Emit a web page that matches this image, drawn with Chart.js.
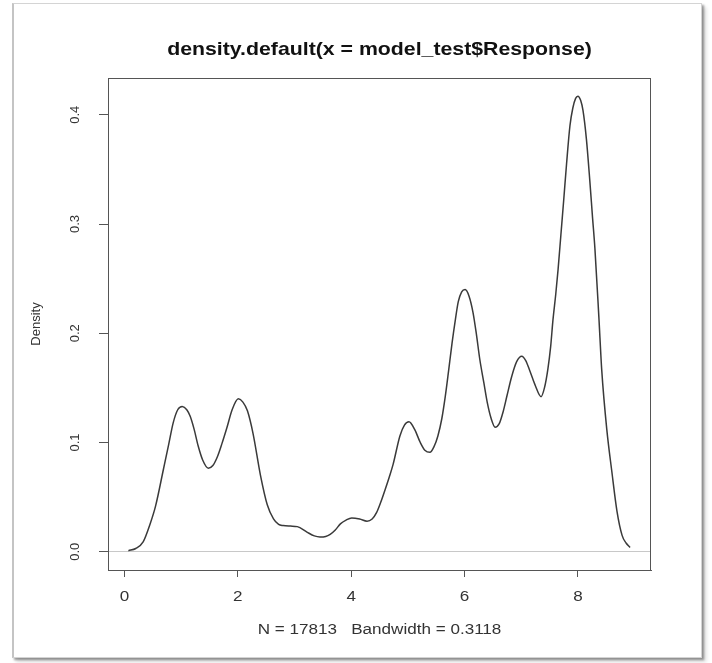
<!DOCTYPE html>
<html lang="en">
<head>
  <meta charset="UTF-8">
  <title>density.default(x = model_test$Response)</title>
  <script src="https://cdn.jsdelivr.net/npm/chart.js"></script>
  <style>
    body {
      margin: 0;
      background: #fff;
      font-family: "Liberation Sans", Arial, sans-serif;
    }

    #frame {
      position: absolute;
      left: 12px;
      top: 3px;
      width: 687px;
      height: 653px;
      border: 1px solid #d4d4d4;
      border-left: 2px solid #c4c4c4;
      box-shadow: 2px 2px 2px rgba(0, 0, 0, 0.35), 4px 4px 4px rgba(0, 0, 0, 0.15);
    }

    #chart-container {
      position: absolute;
      left: 0;
      top: 0;
      width: 712px;
      height: 663px;
    }
  </style>
</head>
<body>
  <div id="frame"></div>
  <div id="chart-container">
    <canvas id="densityChart" width="712" height="663"></canvas>
  </div>

  <script>
    const mainTitle = "density.default(x = model_test$Response)";
    const subTitle = "N = 17813   Bandwidth = 0.3118";
    const yTitle = "Density";

    const xTicks = [0, 2, 4, 6, 8];
    const yTicks = [0.0, 0.1, 0.2, 0.3, 0.4];

    // curve
    const densX = [
      0.07, 0.2, 0.33, 0.45, 0.55, 0.69, 0.78, 0.86, 0.94, 1.02,
      1.10, 1.16, 1.23, 1.30, 1.38, 1.48, 1.56, 1.64, 1.72, 1.81,
      1.90, 2.01, 2.09, 2.17, 2.27, 2.40, 2.52, 2.63, 2.72, 2.80,
      2.93, 3.05, 3.22, 3.35, 3.45, 3.55, 3.63, 3.72, 3.81, 3.91,
      4.01, 4.15, 4.28, 4.37, 4.45, 4.52, 4.60, 4.67, 4.74, 4.86,
      4.94, 5.02, 5.12, 5.22, 5.30, 5.39, 5.46, 5.53, 5.60, 5.66,
      5.72, 5.78, 5.84, 5.89, 5.95, 6.01, 6.08, 6.15, 6.21, 6.27,
      6.34, 6.40, 6.47, 6.54, 6.61, 6.68, 6.75, 6.83, 6.92, 7.01,
      7.08, 7.15, 7.25, 7.35, 7.41, 7.47, 7.52, 7.56, 7.61, 7.65,
      7.70, 7.75, 7.80, 7.86, 7.91, 7.96, 8.00, 8.05, 8.09, 8.15,
      8.21, 8.26, 8.30, 8.37, 8.42, 8.51, 8.60, 8.69, 8.78, 8.85,
      8.92
    ];
    const densY = [
      0.001, 0.003, 0.009, 0.025, 0.042, 0.076, 0.098, 0.118, 0.130, 0.133,
      0.130, 0.124, 0.112, 0.097, 0.084, 0.0765, 0.079, 0.087, 0.099, 0.114,
      0.130, 0.140, 0.137, 0.129, 0.108, 0.070, 0.043, 0.030, 0.025, 0.024,
      0.0235, 0.023, 0.018, 0.0145, 0.0135, 0.014, 0.016, 0.020, 0.0255, 0.029,
      0.031, 0.030, 0.028, 0.030, 0.036, 0.045, 0.057, 0.068, 0.080, 0.106,
      0.116, 0.119, 0.112, 0.100, 0.093, 0.091, 0.096, 0.106, 0.122, 0.142,
      0.166, 0.191, 0.213, 0.229, 0.238, 0.240, 0.234, 0.219, 0.199, 0.176,
      0.155, 0.137, 0.122, 0.114, 0.117, 0.128, 0.143, 0.160, 0.174, 0.179,
      0.175, 0.166, 0.152, 0.142, 0.150, 0.167, 0.188, 0.212, 0.236, 0.258,
      0.290, 0.322, 0.355, 0.390, 0.406, 0.415, 0.417, 0.413, 0.404, 0.378,
      0.340, 0.305, 0.278, 0.215, 0.167, 0.112, 0.073, 0.037, 0.015, 0.008,
      0.004
    ];

    const points = densX.map((x, i) => ({ x: x, y: densY[i] }));

    const axisColor = "#555";
    const textColor = "#333";
    const fontFamily = "'Liberation Sans', Arial, sans-serif";

    // the source picture is stretched sideways, so its text is too
    function wideText(ctx, text, x, y, sx) {
      ctx.save();
      ctx.translate(x, y);
      ctx.scale(sx, 1);
      ctx.fillText(text, 0, 0);
      ctx.restore();
    }

    // box, titles and tick labels, R style
    const rDecor = {
      id: "rDecor",
      afterDraw(chart) {
        const { ctx, chartArea } = chart;
        const xScale = chart.scales.x;
        const yScale = chart.scales.y;
        const midX = (chartArea.left + chartArea.right) / 2;
        ctx.save();
        ctx.strokeStyle = axisColor;
        ctx.lineWidth = 1;
        ctx.strokeRect(chartArea.left + 0.5, chartArea.top + 0.5,
          chartArea.right - chartArea.left - 1, chartArea.bottom - chartArea.top);

        ctx.textAlign = "center";
        ctx.textBaseline = "middle";

        ctx.fillStyle = "#111";
        ctx.font = "bold 19px " + fontFamily;
        wideText(ctx, mainTitle, midX, 50, 1.12);

        ctx.fillStyle = textColor;
        ctx.font = "14px " + fontFamily;
        xTicks.forEach(v => {
          wideText(ctx, String(v), xScale.getPixelForValue(v), 597, 1.22);
        });
        wideText(ctx, subTitle, midX, 630, 1.22);

        ctx.font = "13px " + fontFamily;
        yTicks.forEach(v => {
          const py = yScale.getPixelForValue(v);
          ctx.save();
          ctx.translate(75, py);
          ctx.rotate(-Math.PI / 2);
          ctx.fillText(v.toFixed(1), 0, 0);
          ctx.restore();
        });
        ctx.restore();
      }
    };

    const ctx = document.getElementById("densityChart").getContext("2d");
    new Chart(ctx, {
      type: "scatter",
      data: {
        datasets: [
          {
            data: points,
            showLine: true,
            borderColor: "#3a3a3a",
            borderWidth: 1.5,
            pointRadius: 0,
            cubicInterpolationMode: "monotone",
            fill: false
          }
        ]
      },
      options: {
        responsive: false,
        animation: false,
        layout: {
          padding: { top: 78, right: 61, left: 0, bottom: 0 }
        },
        plugins: {
          legend: { display: false },
          tooltip: { enabled: false },
          title: { display: false }
        },
        scales: {
          x: {
            type: "linear",
            min: -0.29,
            max: 9.29,
            afterBuildTicks: scale => {
              scale.ticks = xTicks.map(v => ({ value: v }));
            },
            afterFit: scale => {
              scale.height = 93;
            },
            border: { display: true, color: axisColor, width: 1 },
            grid: {
              display: true,
              drawOnChartArea: false,
              drawTicks: true,
              tickLength: 7,
              color: axisColor
            },
            ticks: {
              display: false
            }
          },
          y: {
            type: "linear",
            min: -0.0167,
            max: 0.4337,
            afterBuildTicks: scale => {
              scale.ticks = yTicks.map(v => ({ value: v }));
            },
            afterFit: scale => {
              scale.width = 108;
            },
            border: { display: true, color: axisColor, width: 1 },
            grid: {
              display: true,
              drawOnChartArea: true,
              drawTicks: true,
              tickLength: 9,
              color: c => (c.tick && c.tick.value === 0 ? "#c8c8c8" : "rgba(0,0,0,0)"),
              tickColor: axisColor
            },
            ticks: {
              display: false
            },
            title: {
              display: true,
              text: yTitle,
              color: textColor,
              font: { size: 13, family: fontFamily },
              padding: { top: 29, bottom: 0 }
            }
          }
        }
      },
      plugins: [rDecor]
    });
  </script>
</body>
</html>
